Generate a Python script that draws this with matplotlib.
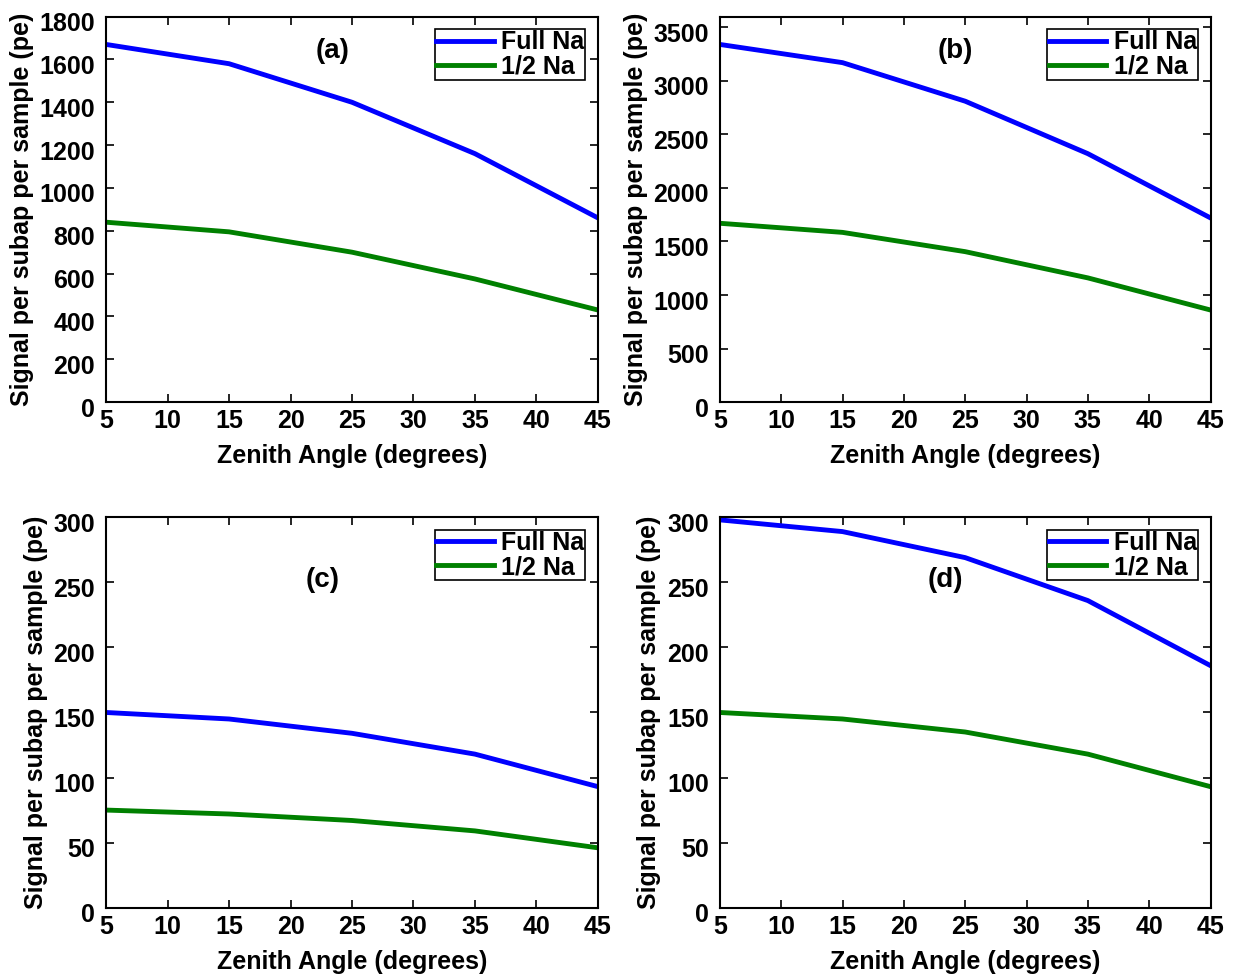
import matplotlib.pyplot as plt
from matplotlib.transforms import ScaledTranslation

plt.rcParams['font.family'] = ['Liberation Sans', 'DejaVu Sans']
plt.rcParams['font.weight'] = 'bold'
plt.rcParams['font.size'] = 18

zenith = [5, 15, 25, 35, 45]

full_a = [1670, 1580, 1400, 1160, 860]
half_a = [840, 795, 700, 575, 430]
full_b = [3340, 3170, 2810, 2320, 1720]
half_b = [1670, 1585, 1405, 1160, 860]
full_c = [150, 145, 134, 118, 93]
half_c = [75, 72, 67, 59, 46]
full_d = [298, 289, 269, 236, 186]
half_d = [150, 145, 135, 118, 93]

panels = [
    ('(a)', full_a, half_a, list(range(0, 1801, 200)), 1800, (0.46, 0.91)),
    ('(b)', full_b, half_b, list(range(0, 3501, 500)), 3600, (0.48, 0.91)),
    ('(c)', full_c, half_c, list(range(0, 301, 50)), 300, (0.44, 0.84)),
    ('(d)', full_d, half_d, list(range(0, 301, 50)), 300, (0.46, 0.84)),
]

# axes rectangles [left, bottom, width, height]
rects = [
    [0.0856, 0.588, 0.397, 0.395],
    [0.581, 0.588, 0.396, 0.395],
    [0.0856, 0.070, 0.397, 0.400],
    [0.581, 0.070, 0.396, 0.400],
]

fig = plt.figure(figsize=(12.39, 9.76), dpi=100)

for (lab, full, half, yt, ymax, pos), r in zip(panels, rects):
    ax = fig.add_axes(r)
    ax.plot(zenith, full, color='#0000ff', lw=3.5, label='Full Na')
    ax.plot(zenith, half, color='#008000', lw=3.5, label='1/2 Na')
    ax.set_xlim(5, 45)
    ax.set_ylim(0, ymax)
    ax.set_xticks(range(5, 46, 5))
    ax.set_yticks(yt)
    ax.tick_params(direction='in', top=True, right=True, length=6, width=1.2, labelsize=18)
    ax.tick_params(axis='x', pad=5)
    ax.tick_params(axis='y', pad=8)
    # matlab-ish: y tick labels sit slightly low
    for t in ax.get_yticklabels():
        t.set_transform(t.get_transform() + ScaledTranslation(0, -0.05, fig.dpi_scale_trans))
    for s in ax.spines.values():
        s.set_linewidth(1.5)
    ax.set_xlabel('Zenith Angle (degrees)', fontsize=18, fontweight='bold', labelpad=8)
    ax.set_ylabel('Signal per subap per sample (pe)', fontsize=18, fontweight='bold', labelpad=4)
    ax.text(pos[0], pos[1], lab, transform=ax.transAxes, fontsize=20,
            fontweight='bold', ha='center', va='center')
    leg = ax.legend(loc='upper right', fontsize=18, fancybox=False, framealpha=1,
                    edgecolor='black', handlelength=2.3, borderpad=0.05,
                    labelspacing=0.0, handletextpad=0.3, borderaxespad=0.5)
    leg.get_frame().set_linewidth(1.2)

fig.savefig('out.png', dpi=100)
